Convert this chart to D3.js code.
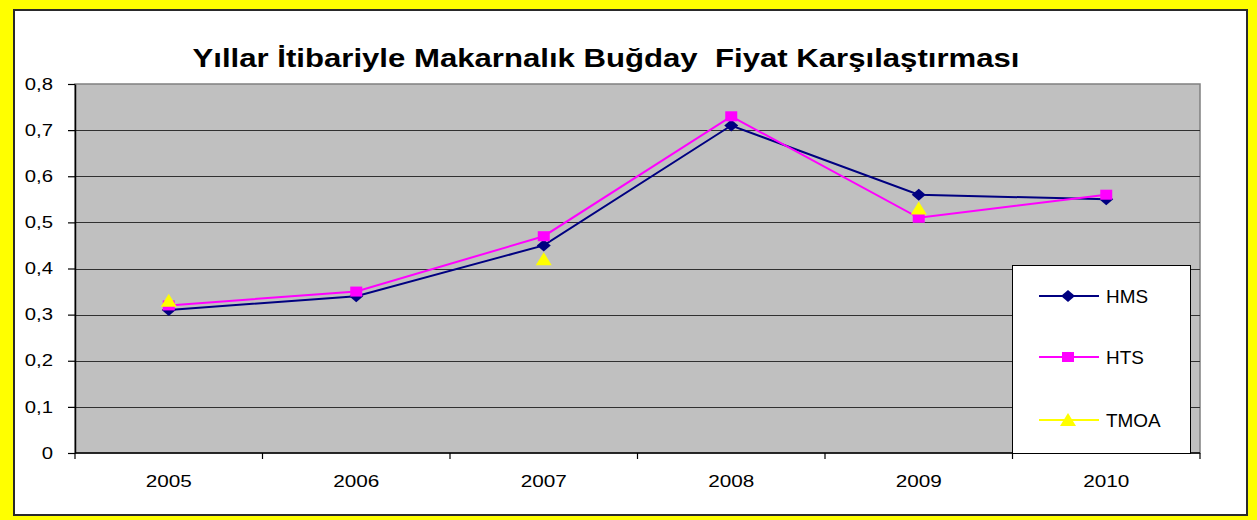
<!DOCTYPE html>
<html>
<head>
<meta charset="utf-8">
<script src="https://cdn.jsdelivr.net/npm/d3@7"></script>
<style>
  html, body { margin: 0; padding: 0; background: #FFFF00; }
  svg { display: block; }
  text { font-family: "Liberation Sans", Arial, sans-serif; fill: #000; }
</style>
</head>
<body>
<svg id="chart" width="1257" height="520"></svg>
<script>
const title = "Yıllar İtibariyle Makarnalık Buğday  Fiyat Karşılaştırması";
const years = ["2005", "2006", "2007", "2008", "2009", "2010"];
const hms  = [0.31, 0.34, 0.45, 0.71, 0.56, 0.55];
const hts  = [0.32, 0.35, 0.47, 0.73, 0.51, 0.56];
const tmoa = [0.33, null, 0.42, null, 0.53, null];
const yTicks = [0, 0.1, 0.2, 0.3, 0.4, 0.5, 0.6, 0.7, 0.8];
const seriesNames = ["HMS", "HTS", "TMOA"];

(function() {
const svg = d3.select("#chart");
const W = 1257, H = 520;

function stretch(sel, factor) {
  sel.each(function() {
    const w = this.getComputedTextLength();
    d3.select(this).attr("textLength", w * factor).attr("lengthAdjust", "spacingAndGlyphs");
  });
}

// background frame
svg.append("rect").attr("x", 0).attr("y", 0).attr("width", W).attr("height", H).attr("fill", "#FFFF00");
svg.append("rect").attr("x", 14).attr("y", 10).attr("width", 1233).attr("height", 505)
  .attr("fill", "#fff").attr("stroke", "#2a2a2a").attr("stroke-width", 2);

const pL = 75, pR = 1200, pT = 84, pB = 453;
const x = d3.scaleBand().domain(years).range([pL, pR]);
const y = d3.scaleLinear().domain([0, 0.8]).range([pB, pT]);

// plot area
svg.append("rect").attr("x", pL).attr("y", pT).attr("width", pR - pL).attr("height", pB - pT)
  .attr("fill", "#C0C0C0").attr("stroke", "#808080").attr("stroke-width", 1.5);

// gridlines
svg.append("g").selectAll("line").data(yTicks.filter(d => d > 0 && d < 0.8)).join("line")
  .attr("x1", pL).attr("x2", pR)
  .attr("y1", d => Math.round(y(d)) + 0.5).attr("y2", d => Math.round(y(d)) + 0.5)
  .attr("stroke", "#303030").attr("stroke-width", 1.2);

// y axis
const fmt = d => d === 0 ? "0" : d3.format(".1f")(d).replace(".", ",");
const yAxis = svg.append("g").attr("transform", `translate(${pL},0)`)
  .call(d3.axisLeft(y).tickValues(yTicks).tickFormat(fmt).tickSizeInner(7).tickSizeOuter(0).tickPadding(15));
yAxis.select(".domain").attr("stroke", "#000").attr("stroke-width", 1.5);
yAxis.selectAll(".tick line").attr("stroke", "#000").attr("stroke-width", 1.2);
yAxis.selectAll("text").attr("font-size", 16).style("font-family", "Liberation Sans, Arial, sans-serif");
stretch(yAxis.selectAll("text"), 1.27);

// x axis line
svg.append("line").attr("x1", pL).attr("x2", pR).attr("y1", pB).attr("y2", pB)
  .attr("stroke", "#000").attr("stroke-width", 1.5);
// x boundary ticks
const bounds = years.map(d => x(d)).concat([x.range()[1]]);
svg.append("g").selectAll("line").data(bounds).join("line")
  .attr("x1", d => d).attr("x2", d => d).attr("y1", pB).attr("y2", pB + 6)
  .attr("stroke", "#000").attr("stroke-width", 1.2);
// x labels
const xAxis = svg.append("g").attr("transform", `translate(0,${pB})`)
  .call(d3.axisBottom(x).tickSize(0).tickPadding(22));
xAxis.select(".domain").remove();
xAxis.selectAll("text").attr("font-size", 17).style("font-family", "Liberation Sans, Arial, sans-serif");
stretch(xAxis.selectAll("text"), 1.22);

// title
const t = svg.append("text").attr("x", 606).attr("y", 67).attr("text-anchor", "middle")
  .attr("font-size", 25).attr("font-weight", "bold").style("white-space", "pre").text(title);
t.attr("textLength", 827).attr("lengthAdjust", "spacingAndGlyphs");

const cx = d => x(d) + x.bandwidth() / 2;

// series
const colors = { HMS: "#000080", HTS: "#FF00FF", TMOA: "#FFFF00" };
const dataMap = { HMS: hms, HTS: hts, TMOA: tmoa };

function marker(g, name, px, py) {
  const c = colors[name];
  if (name === "HMS") {
    g.append("path").attr("d", `M${px},${py-6}L${px+7},${py}L${px},${py+6}L${px-7},${py}Z`).attr("fill", c);
  } else if (name === "HTS") {
    g.append("rect").attr("x", px - 6).attr("y", py - 5).attr("width", 12).attr("height", 10).attr("fill", c);
  } else {
    g.append("path").attr("d", `M${px},${py-7}L${px+8},${py+6}L${px-8},${py+6}Z`).attr("fill", c);
  }
}

seriesNames.forEach(name => {
  const vals = dataMap[name];
  const pts = years.map((yr, i) => ({ yr, v: vals[i] }));
  const line = d3.line().defined(d => d.v !== null).x(d => cx(d.yr)).y(d => y(d.v));
  const g = svg.append("g");
  g.append("path").datum(pts).attr("d", line).attr("fill", "none")
    .attr("stroke", colors[name]).attr("stroke-width", 2);
  pts.filter(d => d.v !== null).forEach(d => marker(g, name, cx(d.yr), y(d.v)));
});

// legend
const lg = svg.append("g");
lg.append("rect").attr("x", 1012.5).attr("y", 265.5).attr("width", 178).attr("height", 188)
  .attr("fill", "#fff").attr("stroke", "#000").attr("stroke-width", 1);
const legY = [296, 357, 420];
seriesNames.forEach((name, i) => {
  const ly = legY[i];
  lg.append("line").attr("x1", 1039).attr("x2", 1099).attr("y1", ly).attr("y2", ly)
    .attr("stroke", colors[name]).attr("stroke-width", 2);
  marker(lg, name, 1068, ly);
  const tx = lg.append("text").attr("x", 1106).attr("y", ly + 7).attr("font-size", 18).text(name);
  stretch(tx, 1.05);
});
})();
</script>
</body>
</html>
